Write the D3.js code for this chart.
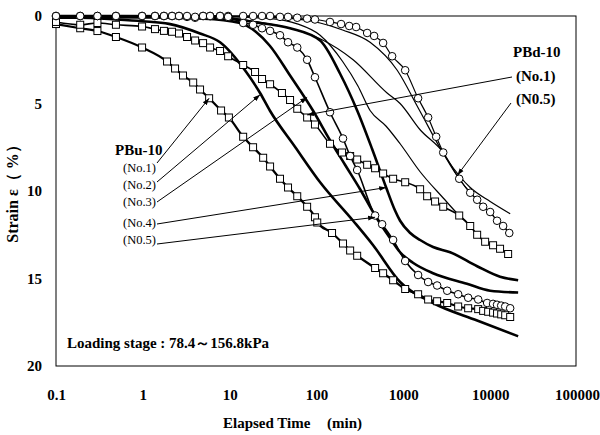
<!DOCTYPE html>
<html><head><meta charset="utf-8">
<script src="https://cdn.jsdelivr.net/npm/d3@7"></script>
<style>
html,body{margin:0;padding:0;background:#fff;}
svg text{font-family:"Liberation Serif","Times New Roman",serif;fill:#000;}
</style></head>
<body><svg id="c" width="600" height="435"></svg>
<script>
// ---- data: [time (min), strain (%)] ----
const xTicks = [0.1, 1, 10, 100, 1000, 10000, 100000];
const yTicks = [0, 5, 10, 15, 20];
const puLabels = ["(No.1)", "(No.2)", "(No.3)", "(No.4)", "(N0.5)"];
const pdLabels = ["(No.1)", "(N0.5)"];

// PBu-10 No.1 (squares)
const puNo1 = [[0.1,0.46],[0.19,0.7],[0.3,0.86],[0.49,1.2],[0.98,1.8],[1.9,2.6],[2.35,3.0],[2.9,3.4],[3.8,3.8],[4.56,4.2],[5.8,4.7],[7.96,5.4],[9.8,5.8],[14.3,6.9],[18.6,7.5],[24.3,8.1],[29.2,8.6],[38,9.3],[47,9.8],[60,10.3],[78,10.9],[96,11.5],[102,11.8],[151,12.4],[202,13.0],[244,13.4],[294,13.7],[473,14.4],[585,14.7],[763,15.1],[1050,15.6],[1480,15.9],[1930,16.2],[2450,16.3],[3200,16.4],[4280,16.6],[5580,16.7],[7280,16.75],[8300,16.85],[9480,16.9],[10800,16.95],[12000,17.0],[13400,17.05],[14900,17.1],[17000,17.2]];
// PBu-10 No.2 (thick line)
const puNo2 = [[0.1,0.1],[0.18,0.1],[0.5,0.2],[1,0.3],[2,0.45],[4.56,1.0],[7.75,1.5],[15,3.1],[22.4,4.4],[29,5.4],[57,7.5],[110,9.5],[264,11.7],[449,13.1],[918,15.2],[2200,16.4],[7080,17.4],[21000,18.3]];
// PBu-10 No.3 (thick line)
const puNo3 = [[0.1,0.05],[1,0.08],[5,0.15],[13.2,0.4],[20,0.9],[29,1.7],[49.6,3.4],[91,5.4],[143,7.1],[213,8.5],[318,9.9],[473,11.4],[705,12.7],[918,13.5],[1290,14.1],[2200,14.7],[5400,15.3],[10000,15.7],[21000,15.8]];
// PBu-10 No.4 (thick line)
const puNo4 = [[0.1,0.0],[5,0.02],[18.6,0.34],[49.6,0.7],[110,1.4],[187,3.3],[294,5.4],[437,7.6],[634,9.8],[800,11.1],[918,11.7],[1200,12.4],[1560,12.8],[2200,13.2],[3460,13.5],[7080,14.3],[13000,14.9],[21000,15.1]];
// PBu-10 N0.5 (circles)
const puNo5 = [[0.1,0],[0.19,0],[0.3,0],[0.49,0],[0.98,0],[1.38,0],[1.75,0],[2.17,0],[2.61,0],[3.23,0],[4.0,0.05],[4.94,0],[5.95,0],[7.75,0],[9.6,0.05],[14.3,0.4],[18.6,0.5],[23.6,0.7],[29.2,0.85],[38,1.1],[47,1.5],[60,1.8],[78,2.5],[96,3.5],[143,5.5],[202,7.0],[244,8.0],[294,8.8],[473,11.4],[570,11.9],[763,12.8],[1050,14.0],[1480,14.8],[1930,15.2],[2450,15.4],[3200,15.7],[4280,15.9],[5580,16.1],[7280,16.2],[9230,16.4],[10800,16.45],[12000,16.5],[13400,16.55],[14900,16.6],[17000,16.7]];
// PBd-10 No.1 (squares)
const pdNo1 = [[0.1,0.34],[0.19,0.5],[0.3,0.4],[0.49,0.5],[0.98,0.6],[1.38,0.75],[1.75,0.85],[2.17,0.9],[2.61,1.0],[3.23,1.2],[4.0,1.4],[4.94,1.55],[5.95,1.8],[7.75,2.0],[9.6,2.3],[14.3,2.8],[19.6,3.2],[23.6,3.6],[29.2,3.9],[40,4.4],[49.6,4.8],[60,5.3],[78,5.8],[96,6.2],[143,7.3],[197,7.8],[244,8.0],[294,8.2],[383,8.5],[473,8.7],[585,9.0],[763,9.3],[1050,9.5],[1560,9.9],[1880,10.3],[2320,10.6],[2880,10.9],[4400,11.4],[5890,12.0],[7080,12.5],[8750,12.9],[10800,13.1],[13000,13.3],[16100,13.6]];
// PBd-10 N0.5 (circles)
const pdNo5 = [[0.1,0],[0.19,0],[0.3,0],[0.49,0],[0.98,0],[1.38,0],[1.75,0],[2.17,0],[2.61,0],[3.23,0.05],[4.0,0.1],[4.94,0],[5.95,0],[7.75,0],[9.6,0],[14.3,0],[18.6,0],[23.6,0],[29.2,0],[38,0.05],[47,0.05],[60,0.1],[78,0.15],[96,0.2],[143,0.34],[192,0.46],[238,0.57],[286,0.63],[383,0.97],[461,1.14],[585,1.54],[743,2.3],[1050,3.1],[1480,4.7],[1930,5.8],[2390,6.9],[2880,7.8],[4400,9.3],[5890,10.1],[7080,10.5],[8300,10.9],[10000,11.2],[12000,11.7],[14100,12.0],[16600,12.4]];
// further thin curves without markers
const thinA = [[0.1,0],[10,0.02],[30,0.08],[60,0.18],[110,0.4],[200,0.8],[414,1.5],[850,3.1],[1500,5.3],[3200,8.2],[5890,9.8],[10000,10.6],[17000,11.3]];
const thinB = [[0.1,0],[1,0.02],[10,0.1],[18.6,0.3],[50,0.7],[110,1.3],[264,2.5],[650,4.4],[918,5.0],[1560,6.5],[2880,7.8],[4400,9.3],[5890,10.1],[7080,10.5],[8300,10.9],[10000,11.2],[12000,11.7],[14100,12.0],[16600,12.4]];
const thinC = [[0.1,0],[10,0.05],[30,0.15],[60,0.45],[110,1.1],[200,2.6],[300,4.0],[414,5.4],[634,6.3],[918,7.3],[1560,8.9],[2880,10.4],[4400,11.4],[5890,12.0],[7080,12.5],[8750,12.9],[10800,13.1],[13000,13.3],[16100,13.6]];

// ---- drawing ----
const svg = d3.select("#c");
const L = 56, R = 577, T = 16, B = 366;
const x = d3.scaleLog().domain([0.1, 100000]).range([L, R]);
const y = d3.scaleLinear().domain([0, 20]).range([T, B]);

const defs = svg.append("defs");
defs.append("marker").attr("id","ah").attr("viewBox","0 0 10 10")
  .attr("refX",10).attr("refY",5).attr("markerWidth",7).attr("markerHeight",7)
  .attr("orient","auto").append("path").attr("d","M0,1.5L10,5L0,8.5z").attr("fill","#000");

// frame
svg.append("rect").attr("x",L).attr("y",T).attr("width",576-L).attr("height",B-T)
  .attr("fill","none").attr("stroke","#000").attr("stroke-width",1);

// axes
const fmt = d => String(d);
const gx = svg.append("g").attr("transform",`translate(0,${B})`)
  .call(d3.axisBottom(x).tickValues(xTicks).tickFormat(fmt).tickSize(0).tickPadding(23));
const gy = svg.append("g").attr("transform",`translate(${L},0)`)
  .call(d3.axisLeft(y).tickValues(yTicks).tickFormat(fmt).tickSize(0).tickPadding(14));
[gx, gy].forEach(g => {
  g.select(".domain").remove();
  g.selectAll("text").attr("font-family","Liberation Serif, Times New Roman, serif")
    .attr("font-weight","bold").attr("font-size",15).attr("fill","#000");
});

const line = d3.line().x(d => x(d[0])).y(d => y(d[1])).curve(d3.curveMonotoneX);
const plot = svg.append("g");
function curve(data, w){
  plot.append("path").datum(data).attr("d",line).attr("fill","none")
    .attr("stroke","#000").attr("stroke-width",w).attr("stroke-linejoin","round");
}
curve(thinA, 1.2);
curve(thinB, 1.2);
curve(thinC, 1.2);
curve(puNo2, 2.6);
curve(puNo3, 2.6);
curve(puNo4, 2.6);
curve(pdNo5, 1.2);
curve(pdNo1, 1.6);
curve(puNo5, 1.6);
curve(puNo1, 2.2);

function squares(data){
  plot.append("g").selectAll("rect").data(data).join("rect")
    .attr("x", d => x(d[0]) - 3.5).attr("y", d => y(d[1]) - 3.5)
    .attr("width",7).attr("height",7).attr("fill","#fff").attr("stroke","#000").attr("stroke-width",1);
}
function circles(data){
  plot.append("g").selectAll("circle").data(data).join("circle")
    .attr("cx", d => x(d[0])).attr("cy", d => y(d[1])).attr("r",3.8)
    .attr("fill","#fff").attr("stroke","#000").attr("stroke-width",1);
}
squares(puNo1);
squares(pdNo1);
circles(pdNo5);
circles(puNo5);

// leaders (targets are points on the curves)
function leader(x0, y0, t, s){
  svg.append("line").attr("x1",x0).attr("y1",y0).attr("x2",x(t)).attr("y2",y(s))
    .attr("stroke","#000").attr("stroke-width",1).attr("marker-end","url(#ah)");
}
leader(157,163, 5.8, 4.7);
leader(157,182, 22.4, 4.5);
leader(157,202, 78, 4.65);
leader(157,224, 634, 9.8);
leader(157,244, 473, 11.5);
leader(512,77, 78, 5.65);
leader(511,103, 4200, 9.1);

// labels
svg.append("text").attr("x",115).attr("y",155).attr("font-weight","bold").attr("font-size",15).text("PBu-10");
const puY = [172, 189, 206, 227, 244];
puLabels.forEach((s,i) => svg.append("text").attr("x",123).attr("y",puY[i]).attr("font-size",12.5).text(s));
svg.append("text").attr("x",513).attr("y",57).attr("font-weight","bold").attr("font-size",15).text("PBd-10");
const pdY = [81, 104];
pdLabels.forEach((s,i) => svg.append("text").attr("x",516).attr("y",pdY[i]).attr("font-weight","bold").attr("font-size",15).text(s));

svg.append("text").attr("x",67).attr("y",348).attr("font-weight","bold").attr("font-size",15)
  .text("Loading stage : 78.4～156.8kPa");

const xt = svg.append("text").attr("y",428).attr("font-weight","bold").attr("font-size",15);
xt.append("tspan").attr("x",223).text("Elapsed Time");
xt.append("tspan").attr("x",327).text("(min)");

svg.append("text").attr("transform","translate(18,190) rotate(-90)").attr("text-anchor","middle")
  .attr("font-weight","bold").attr("font-size",16).text("Strain ε（ %）");
</script></body></html>
